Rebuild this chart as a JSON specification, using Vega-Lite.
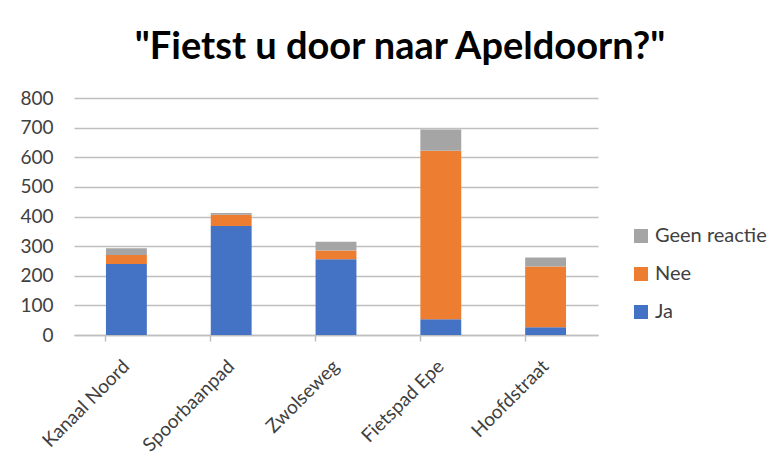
{
  "$schema": "https://vega.github.io/schema/vega-lite/v6.json",
  "autosize": "none",
  "width": 524,
  "height": 237,
  "padding": {"left": 74, "top": 98, "right": 175, "bottom": 134},
  "background": "white",
  "title": {
    "text": "\"Fietst u door naar Apeldoorn?\"",
    "font": "Lato",
    "fontSize": 38,
    "fontWeight": "bold",
    "color": "#000000",
    "anchor": "middle",
    "dx": 64,
    "offset": 22
  },
  "data": {
    "values": [
      {"locatie": "Kanaal Noord", "antwoord": "Ja", "aantal": 240},
      {"locatie": "Kanaal Noord", "antwoord": "Nee", "aantal": 30},
      {"locatie": "Kanaal Noord", "antwoord": "Geen reactie", "aantal": 23},
      {"locatie": "Spoorbaanpad", "antwoord": "Ja", "aantal": 368},
      {"locatie": "Spoorbaanpad", "antwoord": "Nee", "aantal": 38},
      {"locatie": "Spoorbaanpad", "antwoord": "Geen reactie", "aantal": 6},
      {"locatie": "Zwolseweg", "antwoord": "Ja", "aantal": 256},
      {"locatie": "Zwolseweg", "antwoord": "Nee", "aantal": 29},
      {"locatie": "Zwolseweg", "antwoord": "Geen reactie", "aantal": 30},
      {"locatie": "Fietspad Epe", "antwoord": "Ja", "aantal": 53},
      {"locatie": "Fietspad Epe", "antwoord": "Nee", "aantal": 569},
      {"locatie": "Fietspad Epe", "antwoord": "Geen reactie", "aantal": 72},
      {"locatie": "Hoofdstraat", "antwoord": "Ja", "aantal": 26},
      {"locatie": "Hoofdstraat", "antwoord": "Nee", "aantal": 205},
      {"locatie": "Hoofdstraat", "antwoord": "Geen reactie", "aantal": 31}
    ]
  },
  "transform": [
    {"calculate": "indexof(['Ja','Nee','Geen reactie'], datum.antwoord)", "as": "volgorde"}
  ],
  "mark": {"type": "bar"},
  "encoding": {
    "x": {
      "field": "locatie",
      "type": "nominal",
      "sort": null,
      "scale": {"paddingInner": 0.61, "paddingOuter": 0.305},
      "axis": {
        "title": null,
        "labelAngle": -45,
        "labelAlign": "right",
        "labelBaseline": "middle",
        "labelFont": "Lato",
        "labelFontSize": 19,
        "labelColor": "#404040",
        "labelPadding": 22,
        "domainColor": "#BFBFBF",
        "domainWidth": 1.5,
        "tickColor": "#BFBFBF",
        "tickWidth": 1.5,
        "tickSize": 6,
        "bandPosition": 0,
        "grid": false
      }
    },
    "y": {
      "field": "aantal",
      "type": "quantitative",
      "stack": "zero",
      "scale": {"domain": [0, 800]},
      "axis": {
        "title": null,
        "values": [0, 100, 200, 300, 400, 500, 600, 700, 800],
        "domain": false,
        "ticks": false,
        "labelFont": "Lato",
        "labelFontSize": 19,
        "labelColor": "#404040",
        "labelPadding": 21,
        "gridColor": "#BFBFBF",
        "gridWidth": 1.5
      }
    },
    "color": {
      "field": "antwoord",
      "type": "nominal",
      "scale": {
        "domain": ["Geen reactie", "Nee", "Ja"],
        "range": ["#A5A5A5", "#ED7D31", "#4472C4"]
      },
      "legend": {
        "title": null,
        "orient": "none",
        "legendX": 557,
        "legendY": 128,
        "symbolType": "square",
        "symbolSize": 196,
        "symbolStrokeWidth": 0,
        "labelFont": "Lato",
        "labelFontSize": 20,
        "labelColor": "#404040",
        "rowPadding": 18,
        "labelOffset": 4
      }
    },
    "order": {"field": "volgorde", "type": "quantitative", "sort": "ascending"}
  },
  "config": {
    "view": {"stroke": null}
  }
}
